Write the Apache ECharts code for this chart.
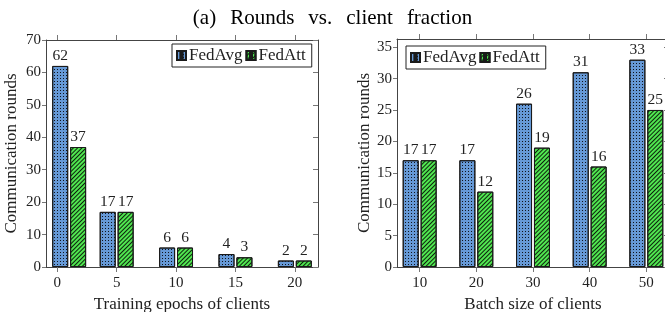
<!DOCTYPE html>
<html>
<head>
<meta charset="utf-8">
<script src="https://cdn.jsdelivr.net/npm/echarts@6/dist/echarts.min.js"></script>
<style>
html,body{margin:0;padding:0;background:#fff;}
#chart{width:665px;height:312px;}
</style>
</head>
<body>
<div id="chart"></div>
<script>
// ---- data ----
const titleWords = ['(a)', 'Rounds', 'vs.', 'client', 'fraction'];
const seriesNames = ['FedAvg', 'FedAtt'];

const epochs = [1, 5, 10, 15, 20];
const fedAvgEpochs = [62, 17, 6, 4, 2];
const fedAttEpochs = [37, 17, 6, 3, 2];
const epochTicks = [0, 5, 10, 15, 20];
const leftYTicks = [0, 10, 20, 30, 40, 50, 60, 70];

const batchSizes = [10, 20, 30, 40, 50];
const fedAvgBatch = [17, 17, 26, 31, 33];
const fedAttBatch = [17, 12, 19, 16, 25];
const batchTicks = [10, 20, 30, 40, 50];
const rightYTicks = [0, 5, 10, 15, 20, 25, 30, 35];

const xNameLeft = 'Training epochs of clients';
const xNameRight = 'Batch size of clients';
const yName = 'Communication rounds';

// ---- styles ----
const FONT = 'Liberation Serif';
const TXT = '#222';
const LINE = '#444';
const TICK = '#777';
const blueFill = '#6699d6';
const greenFill = '#50e650';
const dotDecal = { symbol: 'rect', symbolSize: 1, color: '#10131a', dashArrayX: [1, 2], dashArrayY: [1, 2], rotation: 0 };
const hatchDecal = { symbol: 'rect', symbolSize: 1, color: '#0c220c', dashArrayX: [1, 0], dashArrayY: [1, 1.8], rotation: -Math.PI / 4 };

const chart = echarts.init(document.getElementById('chart'), null, { renderer: 'canvas' });

function pairs(xs, ys) { return xs.map((x, i) => [x, ys[i]]); }

function xAxes(grid, min, max, ticks, name) {
  return [
    {
      type: 'value', gridIndex: grid, position: 'bottom', min: min, max: max,
      name: name, nameLocation: 'middle', nameGap: 25,
      nameTextStyle: { fontFamily: FONT, fontSize: 17, color: TXT },
      axisLine: { show: true, onZero: false, lineStyle: { color: LINE, width: 1 } },
      axisTick: { show: true, inside: false, length: 5, customValues: ticks, lineStyle: { color: TICK } },
      axisLabel: { show: true, customValues: ticks, margin: 9, fontFamily: FONT, fontSize: 15, color: TXT },
      splitLine: { show: false }
    },
    {
      type: 'value', gridIndex: grid, position: 'top', min: min, max: max,
      axisLine: { show: true, onZero: false, lineStyle: { color: LINE, width: 1 } },
      axisTick: { show: true, inside: false, length: 5, customValues: ticks, lineStyle: { color: TICK } },
      axisLabel: { show: false },
      splitLine: { show: false }
    }
  ];
}

function yAxes(grid, max, ticks, gap) {
  return [
    {
      type: 'value', gridIndex: grid, position: 'left', min: 0, max: max,
      name: yName, nameLocation: 'middle', nameGap: gap,
      nameTextStyle: { fontFamily: FONT, fontSize: 17, color: TXT },
      axisLine: { show: true, onZero: false, lineStyle: { color: LINE, width: 1 } },
      axisTick: { show: true, inside: false, length: 4, customValues: ticks, lineStyle: { color: TICK } },
      axisLabel: { show: true, customValues: ticks, margin: 5, fontFamily: FONT, fontSize: 15, color: TXT },
      splitLine: { show: false }
    },
    {
      type: 'value', gridIndex: grid, position: 'right', min: 0, max: max,
      axisLine: { show: true, onZero: false, lineStyle: { color: LINE, width: 1 } },
      axisTick: { show: true, inside: true, length: 5, customValues: ticks, lineStyle: { color: TICK } },
      axisLabel: { show: false },
      splitLine: { show: false }
    }
  ];
}

function barSeries(name, xi, yi, data, fill, decal) {
  return {
    name: name, type: 'bar', xAxisIndex: xi, yAxisIndex: yi,
    data: data, barWidth: 16, barGap: '12%',
    itemStyle: { color: fill, borderColor: '#1a1a1a', borderWidth: 1, decal: decal },
    label: {
      show: true, position: 'top', distance: 2,
      fontFamily: FONT, fontSize: 15.5, color: TXT,
      formatter: p => String(p.value[1])
    }
  };
}

const legendCommon = {
  data: seriesNames,
  orient: 'horizontal',
  icon: 'path://M0,0h4v10h-4z M6,0h4v10h-4z',
  itemWidth: 9, itemHeight: 9, itemGap: 3,
  padding: [3, 6, 3, 4],
  borderColor: '#222', borderWidth: 1, backgroundColor: '#fff',
  textStyle: { fontFamily: FONT, fontSize: 17, color: TXT, padding: [0, 0, 0, -2] },
  selectedMode: false
};

const titleRich = titleWords.map(w => '{w|' + w + '}').join('{s|}');

const option = {
  animation: false,
  backgroundColor: '#fff',
  title: {
    text: titleRich, left: 'center', top: 3,
    textStyle: {
      fontFamily: FONT, fontSize: 21, fontWeight: 'normal', color: '#000',
      rich: {
        w: { fontFamily: FONT, fontSize: 21, color: '#000' },
        s: { width: 14, fontSize: 21 }
      }
    }
  },
  legend: [
    Object.assign({}, legendCommon, { left: 172, top: 44 }),
    Object.assign({}, legendCommon, { left: 406, top: 46 })
  ],
  grid: [
    { left: 46, top: 40, width: 272, height: 227, containLabel: false, outerBoundsMode: 'none' },
    { left: 397, top: 39, width: 272, height: 228, containLabel: false, outerBoundsMode: 'none' }
  ],
  xAxis: [].concat(
    xAxes(0, -0.95, 21.95, epochTicks, xNameLeft),
    xAxes(1, 6, 54, batchTicks, xNameRight)
  ),
  yAxis: [].concat(
    yAxes(0, 70, leftYTicks, 26),
    yAxes(1, 36.3, rightYTicks, 24)
  ),
  series: [
    barSeries(seriesNames[0], 0, 0, pairs(epochs, fedAvgEpochs), blueFill, dotDecal),
    barSeries(seriesNames[1], 0, 0, pairs(epochs, fedAttEpochs), greenFill, hatchDecal),
    barSeries(seriesNames[0], 2, 2, pairs(batchSizes, fedAvgBatch), blueFill, dotDecal),
    barSeries(seriesNames[1], 2, 2, pairs(batchSizes, fedAttBatch), greenFill, hatchDecal)
  ]
};

chart.setOption(option);
</script>
</body>
</html>
